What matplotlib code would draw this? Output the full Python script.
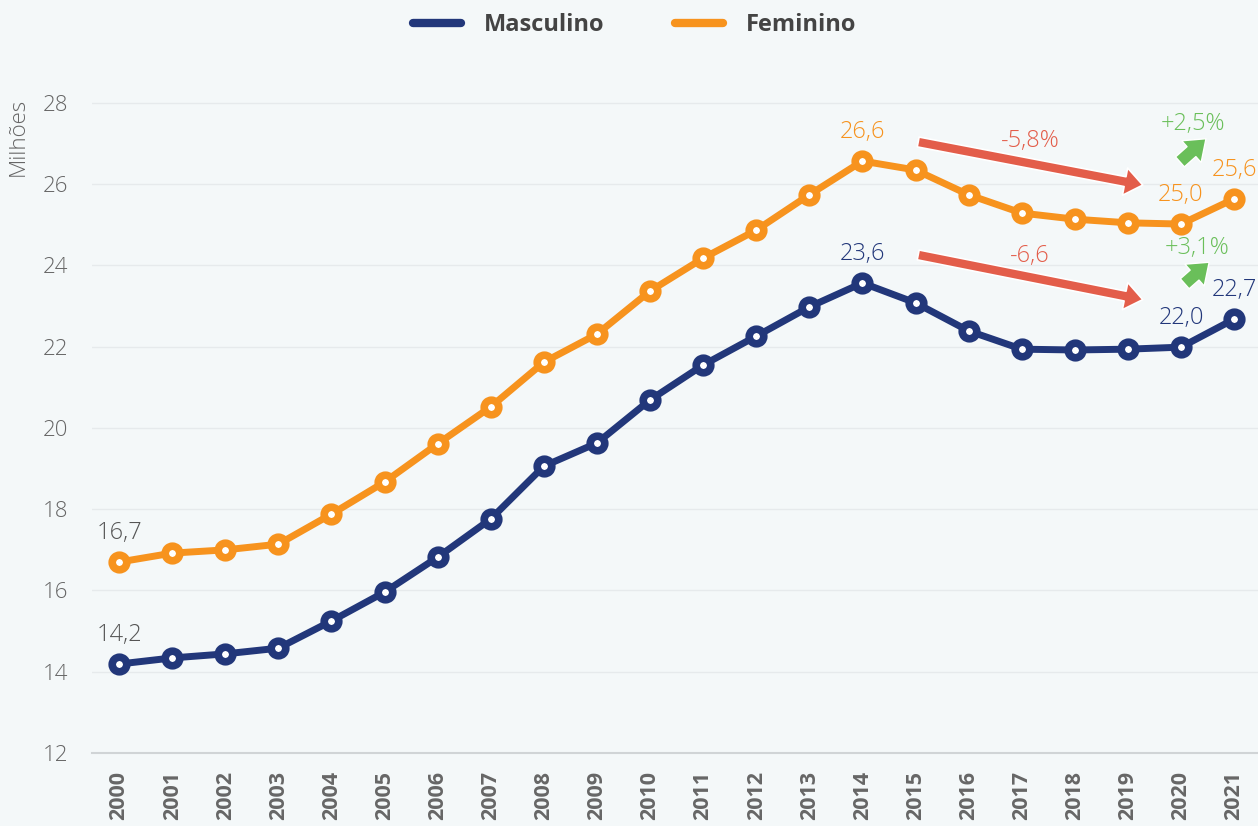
import matplotlib
matplotlib.use("Agg")
import matplotlib.pyplot as plt
from matplotlib.lines import Line2D

years = list(range(2000, 2022))
masculino = [14.19, 14.34, 14.44, 14.58, 15.25, 15.96, 16.82, 17.76, 19.06, 19.63, 20.69,
             21.55, 22.26, 22.98, 23.57, 23.08, 22.39, 21.94, 21.92, 21.94, 21.99, 22.68]
feminino = [16.70, 16.92, 17.00, 17.14, 17.88, 18.67, 19.61, 20.52, 21.62, 22.31, 23.37,
            24.18, 24.87, 25.74, 26.57, 26.35, 25.74, 25.29, 25.14, 25.05, 25.02, 25.64]
series_names = ["Masculino", "Feminino"]
yticks = [12, 14, 16, 18, 20, 22, 24, 26, 28]
y_label = "Milhões"

fem_labels = [(2000, "16,7", "gray"), (2014, "26,6", "c"), (2020, "25,0", "c"), (2021, "25,6", "c")]
mas_labels = [(2000, "14,2", "gray"), (2014, "23,6", "c"), (2020, "22,0", "c"), (2021, "22,7", "c")]
changes = ["-5,8%", "-6,6", "+2,5%", "+3,1%"]

NAVY = "#22377a"
ORANGE = "#f7931e"
RED = "#e35d4a"
GREEN = "#6abf5a"
BG = "#f4f8f9"
GRAY = "#666666"

plt.rcParams['font.family'] = ['Open Sans', 'DejaVu Sans']

fig = plt.figure(figsize=(12.58, 8.26), dpi=100, facecolor=BG)
ax = fig.add_axes([92/1258, 73/826, 1 - 92/1258, (753-78.6)/826])
ax.set_facecolor(BG)

for vals, col in [(masculino, NAVY), (feminino, ORANGE)]:
    ax.plot(years, vals, color=col, lw=5, marker='o', ms=10.5, mew=5.5,
            mfc='white', mec=col, zorder=3, solid_capstyle='round')

ax.set_xlim(1999.49, 2021.45)
ax.set_ylim(12, 28.6)
ax.set_yticks(yticks)
ax.set_yticklabels([str(t) for t in yticks], fontsize=16, color=GRAY, fontweight='light')
ax.set_xticks(years)
ax.set_xticklabels([str(y) for y in years], rotation=90, fontsize=15.5,
                   fontweight='bold', color=GRAY, va='top')
ax.tick_params(axis='y', length=0, pad=17)
ax.tick_params(axis='x', length=0, pad=13)
ax.grid(axis='y', color='#e6eaec', lw=1)
ax.set_axisbelow(True)
for s in ['top', 'right', 'left']:
    ax.spines[s].set_visible(False)
ax.spines['bottom'].set_color('#d0d4d6')
ax.spines['bottom'].set_linewidth(1.5)

fig.text(18/1258, 1 - 137/826, y_label, rotation=90, fontsize=16, color=GRAY,
         ha='center', va='center', fontweight='light')

for vals, col, labs in [(feminino, ORANGE, fem_labels), (masculino, NAVY, mas_labels)]:
    for yr, txt, c in labs:
        v = vals[years.index(yr)]
        ax.annotate(txt, (yr, v), xytext=(0, 21), textcoords='offset points',
                    ha='center', va='center', fontsize=17, fontweight='light',
                    color=("#555555" if c == "gray" else col), annotation_clip=False)

red_arrow = dict(arrowstyle='simple,head_width=1.0,head_length=0.65,tail_width=0.36',
                 fc=RED, ec='white', lw=1.2, mutation_scale=20, shrinkA=0, shrinkB=0)
ax.annotate("", xy=(2019.28, 25.98), xytext=(2015.05, 27.04), arrowprops=red_arrow)
ax.annotate("", xy=(2019.28, 23.16), xytext=(2015.05, 24.26), arrowprops=red_arrow)
ax.text(2017.16, 27.07, changes[0], color=RED, fontsize=17, ha='center', va='center',
        fontweight='light')
ax.text(2017.16, 24.23, changes[1], color=RED, fontsize=17, ha='center', va='center',
        fontweight='light')

green_arrow = dict(arrowstyle='simple,head_width=1.05,head_length=0.7,tail_width=0.48',
                   fc=GREEN, ec='white', lw=1.0, mutation_scale=20, shrinkA=0, shrinkB=0)
ax.annotate("", xy=(2020.47, 27.12), xytext=(2019.98, 26.55), arrowprops=green_arrow,
            annotation_clip=False)
ax.annotate("", xy=(2020.53, 24.08), xytext=(2020.07, 23.55), arrowprops=green_arrow,
            annotation_clip=False)
ax.text(2020.23, 27.48, changes[2], color=GREEN, fontsize=17, ha='center', va='center',
        fontweight='light')
ax.text(2020.30, 24.43, changes[3], color=GREEN, fontsize=17, ha='center', va='center',
        fontweight='light')

handles = [Line2D([], [], color=NAVY, lw=6, solid_capstyle='round'),
           Line2D([], [], color=ORANGE, lw=6, solid_capstyle='round')]
leg = fig.legend(handles, series_names, loc='center', bbox_to_anchor=(635/1258, 1 - 25/826),
                 ncol=2, frameon=False, handlelength=2.0, columnspacing=3.0, handletextpad=1.0,
                 prop={'size': 17, 'weight': 'bold'})
for t in leg.get_texts():
    t.set_color('#444444')

fig.savefig("out.png", dpi=100, facecolor=BG)
